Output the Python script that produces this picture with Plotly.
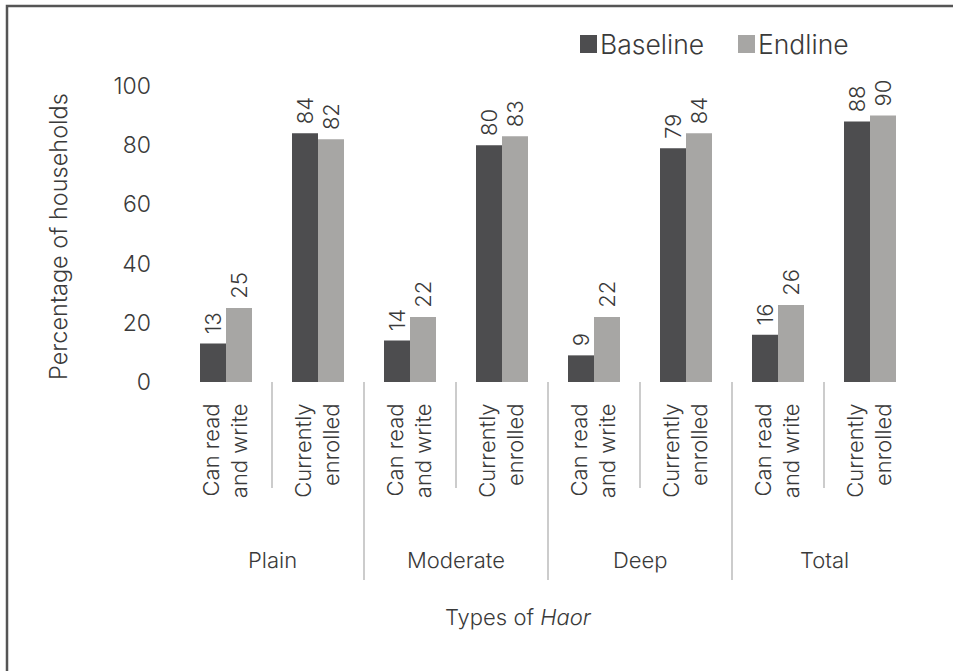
import plotly.graph_objects as go

# Household literacy and school enrolment by type of Haor
categories = [
    "Can read<br>and write", "Currently<br>enrolled",
    "Can read<br>and write", "Currently<br>enrolled",
    "Can read<br>and write", "Currently<br>enrolled",
    "Can read<br>and write", "Currently<br>enrolled",
]
groups = ["Plain", "Moderate", "Deep", "Total"]
series_names = ["Baseline", "Endline"]
baseline = [13, 84, 14, 80, 9, 79, 16, 88]
endline = [25, 82, 22, 83, 22, 84, 26, 90]
y_ticks = [0, 20, 40, 60, 80, 100]

FONT = "Inter"
WEIGHT = 300
TXT = "#3a3a3a"
DARK = "#4d4d4f"
LIGHT = "#a7a6a4"
SIZE = 22


def fnt(size=SIZE):
    return dict(family=FONT, size=size, color=TXT, weight=WEIGHT)


xs = list(range(len(categories)))

fig = go.Figure()
for name, vals, col in [(series_names[0], baseline, DARK), (series_names[1], endline, LIGHT)]:
    fig.add_trace(go.Bar(
        x=xs, y=vals, name=name, marker=dict(color=col, line=dict(width=0)),
        text=vals, texttemplate="\u00a0%{y}", textposition="outside",
        textangle=-90, cliponaxis=False, constraintext="none",
        textfont=fnt(), showlegend=False,
    ))

# plot-area geometry (pixels) used to place annotations and dividers
L, R, T, B = 180, 916, 86, 382
W, H = R - L, B - T


def py(pix):
    return (B - pix) / H


def px(pix):
    return (pix - L) / W


shapes = []
# short dividers between the two indicators of each group
for k in range(4):
    shapes.append(dict(type="line", xref="x", yref="paper", x0=2 * k + 0.5, x1=2 * k + 0.5,
                       y0=0, y1=py(488), line=dict(color="#bbbbbb", width=1.5)))
# long dividers between groups
for k in range(3):
    shapes.append(dict(type="line", xref="x", yref="paper", x0=2 * k + 1.5, x1=2 * k + 1.5,
                       y0=0, y1=py(580), line=dict(color="#bbbbbb", width=1.5)))
# outer frame
shapes.append(dict(type="rect", xref="paper", yref="paper", x0=px(7), x1=px(960),
                   y0=py(680), y1=py(6), line=dict(color="#555555", width=2.5)))

annotations = []
for k, g in enumerate(groups):
    annotations.append(dict(x=2 * k + 0.5, xref="x", y=py(560), yref="paper", text=g,
                            showarrow=False, xanchor="center", yanchor="middle", font=fnt()))
annotations.append(dict(x=px(518), xref="paper", y=py(617), yref="paper",
                        text="Types of <i>Haor</i>", showarrow=False,
                        xanchor="center", yanchor="middle", font=fnt()))
annotations.append(dict(x=px(58), xref="paper", y=py(237), yref="paper",
                        text="Percentage of households", textangle=-90, showarrow=False,
                        xanchor="center", yanchor="middle", font=fnt(23.5)))

# legend keys: square swatch followed by the series name
for left, name, col in [(580, series_names[0], DARK), (738, series_names[1], LIGHT)]:
    shapes.append(dict(type="rect", xref="paper", yref="paper",
                       x0=px(left), x1=px(left + 17), y0=py(53), y1=py(35),
                       line=dict(width=0), fillcolor=col))
    annotations.append(dict(x=px(left + 18), xref="paper", y=py(44), yref="paper",
                            text=name, showarrow=False, xanchor="left", yanchor="middle",
                            font=fnt(26.5)))

fig.update_layout(
    width=953, height=671,
    margin=dict(l=L, r=953 - R, t=T, b=671 - B),
    paper_bgcolor="white", plot_bgcolor="white",
    barmode="group", bargap=40 / 92, bargroupgap=0,
    font=fnt(),
    showlegend=False,
    xaxis=dict(tickmode="array", tickvals=xs, ticktext=categories, tickangle=-90,
               range=[-0.5, 7.5], showgrid=False, zeroline=False, showline=False,
               ticks="", ticklabelstandoff=16, tickfont=fnt()),
    yaxis=dict(range=[0, 100], tickvals=y_ticks, showgrid=False, zeroline=False,
               showline=False, ticks="", ticklabelstandoff=28, tickfont=fnt(23)),
    shapes=shapes, annotations=annotations,
)

fig.write_html("out.html")
